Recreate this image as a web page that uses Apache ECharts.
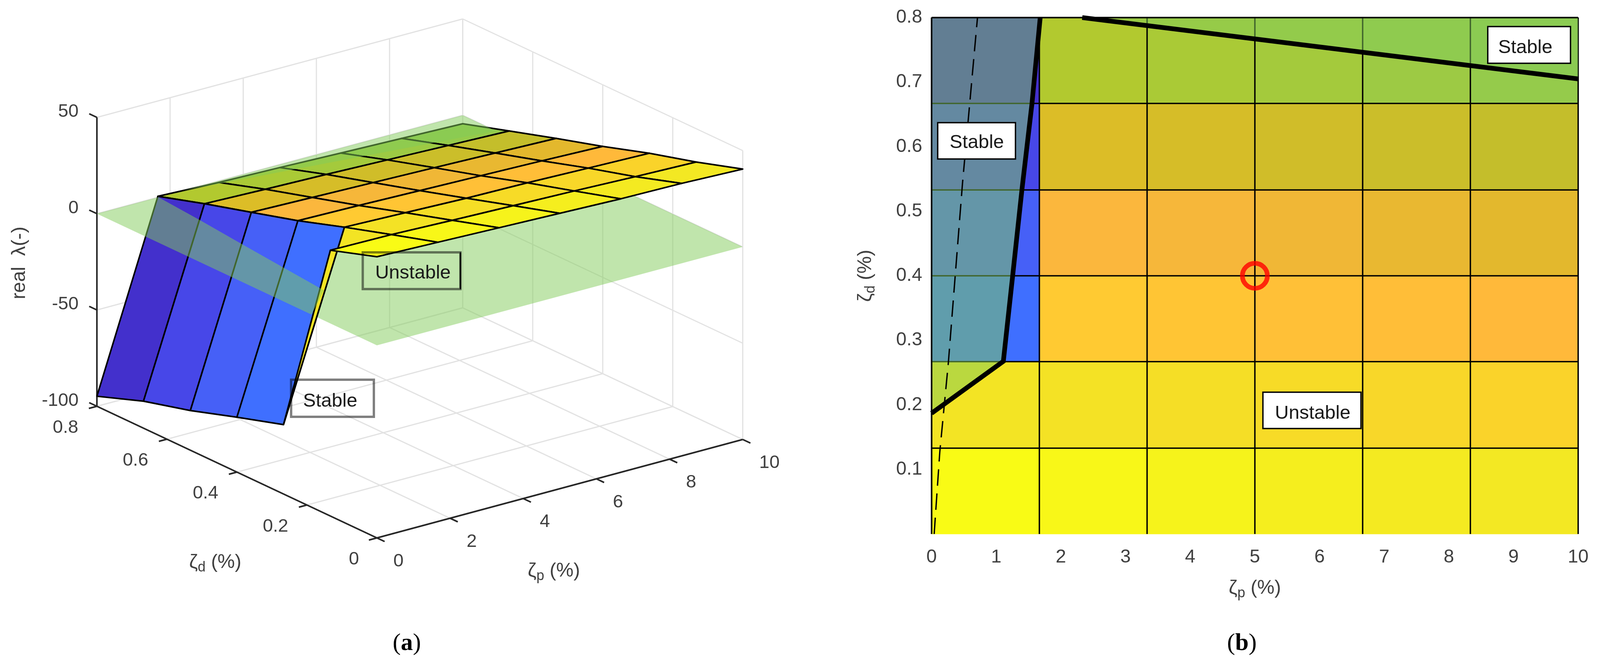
<!DOCTYPE html>
<html>
<head>
<meta charset="utf-8">
<style>
  html, body { margin: 0; padding: 0; background: #fff; overflow: hidden; }
  #chart { width: 100vw; height: 100vh; }
</style>
<script src="https://cdn.jsdelivr.net/npm/echarts@6/dist/echarts.min.js"></script>
</head>
<body>
<div id="chart"></div>
<script>
// mesh of the eigenvalue surface
const pGrid = [0, 1.667, 3.333, 5, 6.667, 8.333, 10];
const dGrid = [0, 0.133, 0.267, 0.4, 0.533, 0.667, 0.8];
const zGrid = [
  [46, 45, 44, 43, 42, 41.5, 40.4],
  [38, 37.6, 36.5, 35.6, 34.7, 33.6, 32.7],
  [-64, 30, 29, 28, 27.5, 26.6, 25.8],
  [-71.5, 22, 21.4, 20.6, 19.8, 19, 18],
  [-79.4, 15, 14.2, 13.4, 12.6, 11.7, 10.8],
  [-86, 8, 7, 6.2, 5.2, 4.2, 3.2],
  [-94.8, 0.5, -0.8, -1.6, -2.6, -3.5, -4.4]
];

// where the surface crosses the real = 0 plane
const contourLeft = [[0, 0.187], [1.11, 0.2675], [1.254, 0.4], [1.397, 0.533], [1.553, 0.667], [1.68, 0.8]];
const contourTop = [[2.33, 0.8], [10, 0.705]];
const dashedBound = [[0.04, 0], [0.127, 0.127], [0.26, 0.266], [0.478, 0.543], [0.71, 0.8]];
const operatingPoint = [[5, 0.4]];

const pTicks3d = [0, 2, 4, 6, 8, 10];
const dTicks3d = [0, 0.2, 0.4, 0.6, 0.8];
const zTicks3d = [-100, -50, 0, 50];

// colour table of the surface, z -> colour
const shadeZ = [-86, -79.4, -71.5, -64, 4.2, 8, 11.7, 15, 19, 22, 26.6, 30, 33.6, 38, 41.5, 46];
const shadeColor = ['#4330cc', '#4747e8', '#4660f7', '#3f6fff', '#95cb4b', '#b2c92f', '#c4be2b', '#dcbd27',
  '#e3b82d', '#fbb73d', '#ffb93a', '#ffca32', '#fad32a', '#f3e424', '#f3e823', '#f9fb15'];

const PLANE = 'rgba(129,203,89,0.5)';
const FONT = 'Liberation Sans';
const TICK = '#404040';

const chart = echarts.init(document.getElementById('chart'));
// the layout below is in 4177 wide picture pixels, the window can be narrower
const sx = chart.getWidth() / 4177;

function hexRgb(h) {
  return [parseInt(h.slice(1, 3), 16), parseInt(h.slice(3, 5), 16), parseInt(h.slice(5, 7), 16)];
}
function shade(z) {
  let k = 0;
  if (z <= shadeZ[0]) return shadeColor[0];
  while (k < shadeZ.length - 2 && z > shadeZ[k + 1]) k++;
  const t = Math.min(1, (z - shadeZ[k]) / (shadeZ[k + 1] - shadeZ[k]));
  const a = hexRgb(shadeColor[k]), b = hexRgb(shadeColor[k + 1]);
  return 'rgb(' + a.map((v, n) => Math.round(v + (b[n] - v) * t)).join(',') + ')';
}

// orthographic view of panel (a): p, d, z to the hidden plane axes
function proj(p, d, z) {
  return [984 + 95.5 * p - 913.75 * d, 1377 - 25.2 * p - 421.25 * d - 4.93 * (z + 100)];
}

const cells = [];
for (let j = 5; j >= 0; j--) {
  for (let i = 5; i >= 0; i--) cells.push([i, j]);
}

const underPlane = [[0, 0], [10, 0]].concat(contourTop.slice().reverse(), contourLeft.slice().reverse());
const overLeft = contourLeft.concat([[0, 0.8]]);
const overTop = contourTop.concat([[10, 0.8]]);

function layer(axis, build) {
  return {
    type: 'custom', coordinateSystem: 'cartesian2d', xAxisIndex: axis, yAxisIndex: axis,
    data: [[0, 0]], silent: true, animation: false,
    renderItem: function (params, api) {
      return { type: 'group', children: build(api) };
    }
  };
}

function seg(api, a, b, color, width) {
  const p1 = api.coord(a), p2 = api.coord(b);
  return {
    type: 'line', shape: { x1: p1[0], y1: p1[1], x2: p2[0], y2: p2[1] },
    style: { stroke: color, lineWidth: width, lineCap: 'butt' }
  };
}

function label(api, at, text, align) {
  const c = api.coord(at);
  return {
    type: 'text', x: c[0], y: c[1],
    style: { text: text, fill: TICK, fontSize: 47, fontFamily: FONT, align: align, verticalAlign: 'middle' }
  };
}

function box3d(api) {
  const out = [];
  const GRID = '#e2e2e2', AXIS = '#262626';
  pTicks3d.forEach(p => {
    out.push(seg(api, proj(p, 0, -100), proj(p, 0.8, -100), GRID, 3));
    out.push(seg(api, proj(p, 0.8, -100), proj(p, 0.8, 50), GRID, 3));
  });
  dTicks3d.forEach(d => {
    out.push(seg(api, proj(0, d, -100), proj(10, d, -100), GRID, 3));
    out.push(seg(api, proj(10, d, -100), proj(10, d, 50), GRID, 3));
  });
  zTicks3d.forEach(z => {
    out.push(seg(api, proj(0, 0.8, z), proj(10, 0.8, z), GRID, 3));
    out.push(seg(api, proj(10, 0.8, z), proj(10, 0, z), GRID, 3));
  });
  out.push(seg(api, proj(0, 0.8, -100), proj(0, 0.8, 50), AXIS, 4));
  out.push(seg(api, proj(0, 0.8, -100), proj(0, 0, -100), AXIS, 4));
  out.push(seg(api, proj(0, 0, -100), proj(10, 0, -100), AXIS, 4));
  zTicks3d.forEach(z => {
    out.push(seg(api, proj(0, 0.8, z), proj(0, 0.822, z), AXIS, 4));
    const c = proj(0, 0.8, z);
    out.push(label(api, [c[0] - 48, c[1] - 14], String(z), 'right'));
  });
  dTicks3d.forEach(d => {
    out.push(seg(api, proj(0, d, -100), proj(-0.22, d, -100), AXIS, 4));
    const c = proj(0, d, -100);
    out.push(label(api, [c[0] - (d === 0 ? 60 : 82), c[1] + 55], d === 0 ? '0' : d.toFixed(1), 'center'));
  });
  pTicks3d.forEach(p => {
    out.push(seg(api, proj(p, 0, -100), proj(p, -0.022, -100), AXIS, 4));
    const c = proj(p, 0, -100);
    out.push(label(api, [c[0] + 43, c[1] + 60], String(p), 'left'));
  });
  return out;
}

function poly3d(api, pts, fill) {
  return {
    type: 'polygon',
    shape: { points: pts.map(q => api.coord(proj(q[0], q[1], 0))) },
    style: { fill: fill }
  };
}

function surface3d(params, api) {
  const c = cells[params.dataIndex], i = c[0], j = c[1];
  const corner = (a, b) => api.coord(proj(pGrid[a], dGrid[b], zGrid[b][a]));
  return {
    type: 'polygon',
    shape: { points: [corner(i, j), corner(i + 1, j), corner(i + 1, j + 1), corner(i, j + 1)] },
    style: { fill: shade(zGrid[j][i]), stroke: '#000', lineWidth: 4, lineJoin: 'round' }
  };
}

function cell2d(params, api) {
  const c = cells[params.dataIndex], i = c[0], j = c[1];
  const a = api.coord([pGrid[i], dGrid[j]]), b = api.coord([pGrid[i + 1], dGrid[j + 1]]);
  return {
    type: 'rect',
    shape: { x: a[0], y: b[1], width: b[0] - a[0], height: a[1] - b[1] },
    style: { fill: shade(zGrid[j][i]), stroke: shade(zGrid[j][i]), lineWidth: 1 }
  };
}

function mesh2d(api) {
  const out = [];
  pGrid.forEach(p => out.push(seg(api, [p, 0], [p, 0.8], '#000', 3.6)));
  dGrid.slice(1).forEach(d => out.push(seg(api, [0, d], [10, d], '#000', 3.6)));
  return out;
}

function poly2d(api, pts) {
  return { type: 'polygon', shape: { points: pts.map(q => api.coord(q)) }, style: { fill: PLANE } };
}

// boxed notes, [x, y, w, h] of the box and centre of the text
const notesA = [
  { text: 'Unstable', box: [947, 646, 255, 94], at: [1078, 699] },
  { text: 'Stable', box: [760, 972, 216, 95], at: [862, 1027] }
];
const notesB = [
  { text: 'Stable', box: [3884, 68, 216, 94], at: [3982, 122] },
  { text: 'Stable', box: [2448, 314, 203, 93], at: [2550, 365] },
  { text: 'Unstable', box: [3297, 1004, 256, 93], at: [3427, 1058] }
];

function noteGraphics(note, stroke, width, fill) {
  return [
    { type: 'rect', z: 100, shape: { x: note.box[0] * sx, y: note.box[1], width: note.box[2] * sx, height: note.box[3] },
      style: { fill: fill, stroke: stroke, lineWidth: width } },
    { type: 'text', z: 101, x: note.at[0] * sx, y: note.at[1],
      style: { text: note.text, fill: '#1a1a1a', fontSize: 49, fontFamily: FONT, align: 'center', verticalAlign: 'middle' } }
  ];
}

const zetaRich = {
  z: { fontSize: 50, fontFamily: FONT, color: TICK },
  s: { fontSize: 36, fontFamily: FONT, color: TICK, padding: [26, 0, 0, 0] },
  t: { fontSize: 50, fontFamily: FONT, color: TICK }
};

function titleText(text, x, y, rotation) {
  return {
    type: 'text', z: 100, x: x * sx, y: y, rotation: rotation || 0,
    style: { text: text, rich: zetaRich, fill: TICK, fontSize: 50, fontFamily: FONT, align: 'center', verticalAlign: 'middle' }
  };
}

function caption(letter, x) {
  return {
    text: '({b|' + letter + '})', left: x * sx, top: 1612, textAlign: 'center',
    textStyle: {
      fontFamily: 'Liberation Serif', fontWeight: 'normal', fontSize: 62, color: '#000',
      rich: { b: { fontFamily: 'Liberation Serif', fontWeight: 'bold', fontSize: 62, color: '#000' } }
    }
  };
}

chart.setOption({
  animation: false,
  backgroundColor: '#fff',
  title: [caption('a', 1057), caption('b', 3237)],
  grid: [
    { left: 0, top: 0, width: 2100 * sx, height: 1710, containLabel: false },
    { left: 2432 * sx, top: 45, width: 1688 * sx, height: 1322, containLabel: false }
  ],
  xAxis: [
    { gridIndex: 0, type: 'value', min: 0, max: 2100, show: false },
    {
      gridIndex: 1, type: 'value', min: 0, max: 10, interval: 1,
      axisLine: { show: false }, axisTick: { show: false }, splitLine: { show: false },
      axisLabel: { color: TICK, fontSize: 48, fontFamily: FONT, margin: 36 },
      name: '{z|ζ}{s|p}{t| (%)}', nameLocation: 'middle', nameGap: 108,
      nameTextStyle: { color: TICK, fontSize: 50, fontFamily: FONT, rich: zetaRich }
    }
  ],
  yAxis: [
    { gridIndex: 0, type: 'value', min: 0, max: 1710, inverse: true, show: false },
    {
      gridIndex: 1, type: 'value', min: 0, max: 0.8, interval: 0.1,
      axisLine: { show: false }, axisTick: { show: false }, splitLine: { show: false },
      axisLabel: { color: TICK, fontSize: 48, fontFamily: FONT, margin: 24,
        formatter: v => (v === 0 ? '' : v.toFixed(1)) },
      name: '{z|ζ}{s|d}{t| (%)}', nameLocation: 'middle', nameRotate: 90, nameGap: 138,
      nameTextStyle: { color: TICK, fontSize: 50, fontFamily: FONT, rich: zetaRich }
    }
  ],
  series: [
    // panel (a), painted back to front
    layer(0, box3d),
    layer(0, api => [poly3d(api, underPlane, PLANE)]),
    { type: 'custom', coordinateSystem: 'cartesian2d', xAxisIndex: 0, yAxisIndex: 0, silent: true,
      data: cells, renderItem: surface3d },
    layer(0, api => [poly3d(api, overLeft, PLANE), poly3d(api, overTop, PLANE)]),

    // panel (b), top view
    { type: 'custom', coordinateSystem: 'cartesian2d', xAxisIndex: 1, yAxisIndex: 1, silent: true,
      data: cells, renderItem: cell2d },
    layer(1, mesh2d),
    layer(1, api => [poly2d(api, overLeft), poly2d(api, overTop)]),
    layer(1, api => [seg(api, [0, 0], [0, 0.8], '#000', 4), seg(api, [0, 0.8], [10, 0.8], '#000', 4)]),
    { type: 'line', xAxisIndex: 1, yAxisIndex: 1, data: dashedBound, symbol: 'none', silent: true,
      lineStyle: { color: '#000', width: 3.5, type: [42, 20] } },
    { type: 'line', xAxisIndex: 1, yAxisIndex: 1, data: contourLeft, symbol: 'none', silent: true, clip: false,
      lineStyle: { color: '#000', width: 12, join: 'miter' } },
    { type: 'line', xAxisIndex: 1, yAxisIndex: 1, data: contourTop, symbol: 'none', silent: true, clip: false,
      lineStyle: { color: '#000', width: 12 } },
    { type: 'scatter', xAxisIndex: 1, yAxisIndex: 1, data: operatingPoint, symbol: 'circle', symbolSize: 64, silent: true,
      itemStyle: { color: 'rgba(0,0,0,0)', borderColor: '#f00', borderWidth: 12 } }
  ],
  graphic: [
    titleText('real  λ(-)', 51, 673, Math.PI / 2),
    titleText('{z|ζ}{s|d}{t| (%)}', 562, 1440),
    titleText('{z|ζ}{s|p}{t| (%)}', 1446, 1462),
    // right edge of the Unstable note stays black in the reference
    { type: 'line', z: 100, shape: { x1: 1202 * sx, y1: 646, x2: 1202 * sx, y2: 740 }, style: { stroke: '#000', lineWidth: 3.5 } }
  ].concat(
    noteGraphics(notesA[0], 'rgba(0,0,0,0.5)', 6, 'rgba(0,0,0,0)'),
    noteGraphics(notesA[1], 'rgba(0,0,0,0.5)', 6, 'rgba(0,0,0,0)'),
    noteGraphics(notesB[0], '#000', 3.5, '#fff'),
    noteGraphics(notesB[1], '#000', 3.5, '#fff'),
    noteGraphics(notesB[2], '#000', 3.5, '#fff')
  )
});
</script>
</body>
</html>
